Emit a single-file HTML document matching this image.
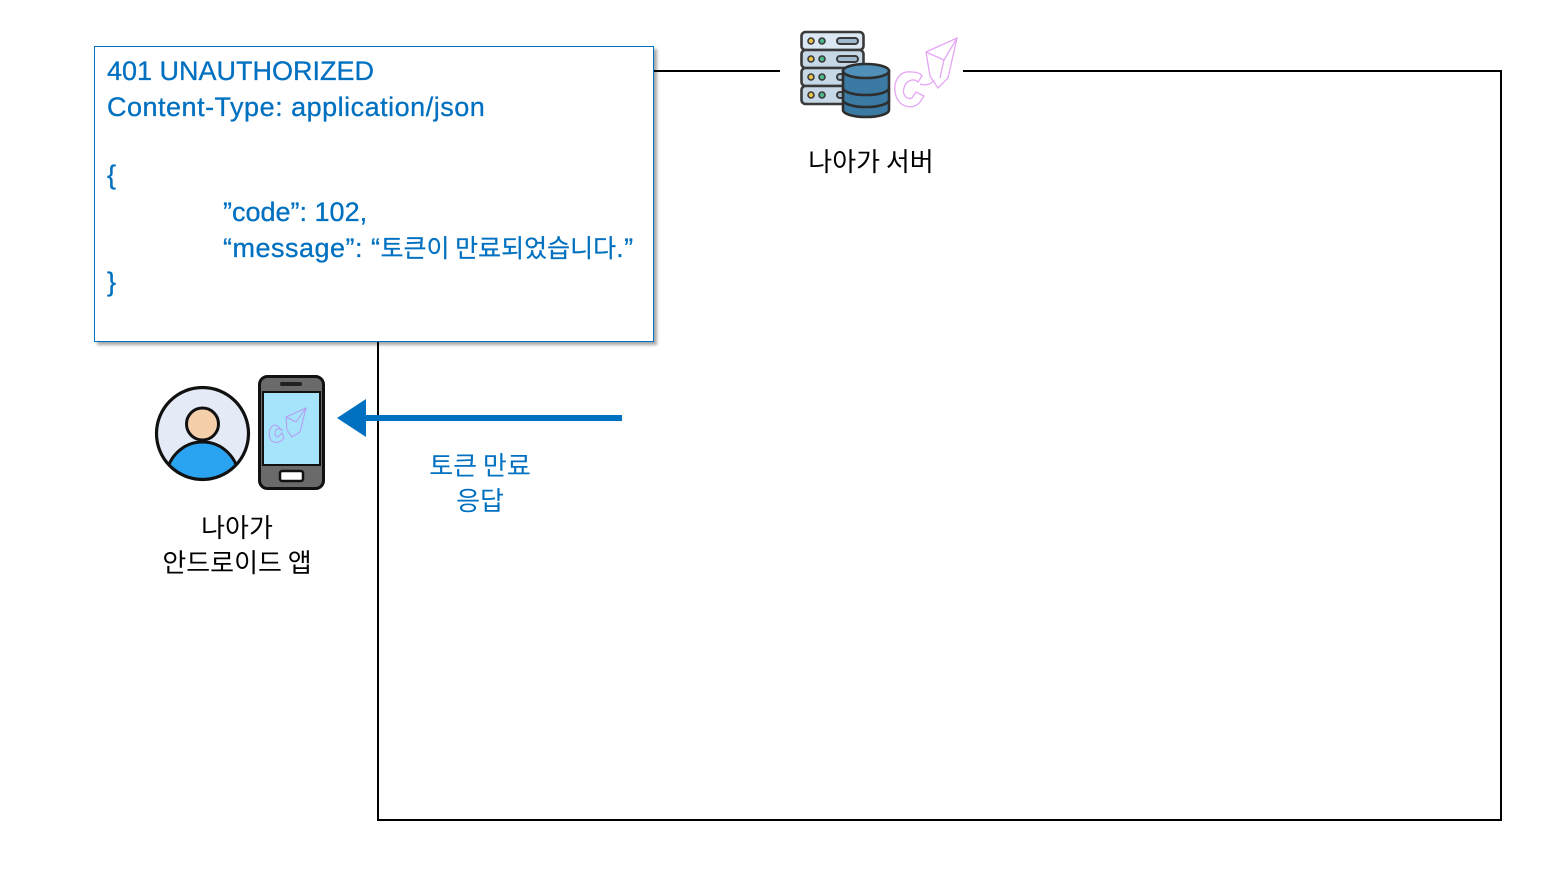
<!DOCTYPE html>
<html><head><meta charset="utf-8">
<style>
html,body{margin:0;padding:0;background:#fff;}
body{width:1560px;height:878px;position:relative;overflow:hidden;font-family:"Liberation Sans","Noto Sans CJK KR",sans-serif;}
.abs{position:absolute;}
.box{left:94px;top:46px;width:558px;height:294px;border:1px solid #0070c0;background:#fff;box-shadow:3px 3px 3px rgba(0,0,0,0.35);}
.c{position:absolute;color:#0070c0;font-size:27px;line-height:36px;white-space:pre;-webkit-text-stroke:0.3px #0070c0;}
.ko{font-family:"Noto Sans CJK KR","Liberation Sans",sans-serif;font-size:25px;letter-spacing:0;-webkit-text-stroke:0.2px #0070c0;}
.lbl{font-family:"Noto Sans CJK KR",sans-serif;font-size:26px;line-height:35px;text-align:center;white-space:pre;}
</style></head>
<body>
<svg class="abs" style="left:0;top:0" width="1560" height="878">
  <!-- frame lines -->
  <line x1="378" y1="71" x2="378" y2="821" stroke="#000" stroke-width="2"/>
  <line x1="377" y1="820" x2="1502" y2="820" stroke="#000" stroke-width="2"/>
  <line x1="1501" y1="70" x2="1501" y2="821" stroke="#000" stroke-width="2"/>
  <line x1="654" y1="71" x2="780" y2="71" stroke="#000" stroke-width="2"/>
  <line x1="963" y1="71" x2="1502" y2="71" stroke="#000" stroke-width="2"/>
  <!-- arrow -->
  <line x1="364" y1="418" x2="622" y2="418" stroke="#0070c0" stroke-width="6"/>
  <polygon points="337,418 366,399 366,437" fill="#0070c0"/>

  <!-- server icon -->
  <g stroke="#3a3a3a" stroke-width="2.6">
    <rect x="801.5" y="32" width="62" height="18" rx="4" fill="#dbe7f2"/>
    <rect x="801.5" y="50" width="62" height="18" rx="4" fill="#c6d7e6"/>
    <rect x="801.5" y="68" width="62" height="18" rx="4" fill="#c6d7e6"/>
    <rect x="801.5" y="86" width="62" height="18" rx="4" fill="#c6d7e6"/>
  </g>
  <g stroke="#3a3a3a" stroke-width="1.6">
    <circle cx="811" cy="41" r="3" fill="#e7c34a"/><circle cx="822" cy="41" r="3" fill="#4cb98a"/>
    <circle cx="811" cy="59" r="3" fill="#e7c34a"/><circle cx="822" cy="59" r="3" fill="#4cb98a"/>
    <circle cx="811" cy="77" r="3" fill="#e7c34a"/><circle cx="822" cy="77" r="3" fill="#4cb98a"/>
    <circle cx="811" cy="95" r="3" fill="#e7c34a"/><circle cx="822" cy="95" r="3" fill="#4cb98a"/>
  </g>
  <g stroke="#3a3a3a" stroke-width="2" fill="#9fb9cf">
    <rect x="837" y="38" width="21" height="6" rx="3"/>
    <rect x="837" y="56" width="21" height="6" rx="3"/>
    <rect x="837" y="74" width="21" height="6" rx="3"/>
    <rect x="837" y="92" width="21" height="6" rx="3"/>
  </g>
  <!-- database -->
  <g stroke="#2e2e2e" stroke-width="2.6">
    <path d="M843,71 L843,110 A23,7 0 0 0 889,110 L889,71 Z" fill="#3a7aa3"/>
    <path d="M843,88 A23,7 0 0 0 889,88" fill="none"/>
    <path d="M843,100 A23,7 0 0 0 889,100" fill="none"/>
    <ellipse cx="866" cy="71" rx="23" ry="7" fill="#4f8fb8"/>
  </g>
  <!-- pink logo (server) -->
  <g fill="none" stroke="#e5a6f4" stroke-width="1.3">
    <path d="M912,72 C898,70 892,84 896,96 C900,108 914,110 920,102 L924,96 L916,92 L912,98 C906,100 902,94 904,88 C906,80 914,78 918,82 L922,76 C920,73 916,72 912,72 Z"/>
    <path d="M926,52 L957,38 L948,78 L938,88 L930,76 L926,52 Z"/>
    <path d="M926,52 L944,60 L957,38"/>
    <path d="M944,60 L940,78"/>
    <path d="M920,84 C926,86 932,84 934,80"/>
  </g>

  <!-- person icon -->
  <defs><clipPath id="cc"><circle cx="202.5" cy="433.5" r="46"/></clipPath></defs>
  <circle cx="202.5" cy="433.5" r="46" fill="#e4ebf6"/>
  <g clip-path="url(#cc)">
    <ellipse cx="202.5" cy="478" rx="36" ry="36" fill="#2aa3f0" stroke="#111" stroke-width="3"/>
  </g>
  <circle cx="202.5" cy="433.5" r="46" fill="none" stroke="#111" stroke-width="3.2"/>
  <circle cx="202.5" cy="424" r="16" fill="#f5cfaa" stroke="#111" stroke-width="3"/>

  <!-- phone -->
  <rect x="259.5" y="376.5" width="64" height="112" rx="8" fill="#6a6a6a" stroke="#111" stroke-width="3"/>
  <rect x="263" y="392" width="57" height="73" fill="#a5e4fb" stroke="#111" stroke-width="2"/>
  <rect x="280" y="382" width="22" height="4" rx="2" fill="#222"/>
  <rect x="280" y="471" width="23" height="10" rx="2" fill="#fff" stroke="#111" stroke-width="2.5"/>
  <g fill="none" stroke="#b79af0" stroke-width="1">
    <path d="M276,425 C270,425 268,432 270,438 C272,444 280,444 284,438 L282,433 L278,437 C275,437 274,433 276,430 C278,428 281,429 283,431 Z"/>
    <path d="M286,417 L306,408 L300,432 L292,437 L287,430 Z"/>
    <path d="M286,417 L296,422 L306,408"/>
  </g>
</svg>

<div class="abs box"></div>
<div class="c" style="left:107px;top:53px;">401 UNAUTHORIZED</div>
<div class="c" style="left:107px;top:89px;letter-spacing:0.5px;">Content-Type: application/json</div>
<div class="c" style="left:107px;top:157px;">{</div>
<div class="c" style="left:223px;top:194px;">”code”: 102,</div>
<div class="c" style="left:223px;top:229px;letter-spacing:0.5px;">“message”: “<span class="ko">토큰이 만료되었습니다</span>.”</div>
<div class="c" style="left:107px;top:264px;">}</div>

<div class="abs lbl" style="left:771px;top:143px;width:200px;color:#000;">나아가 서버</div>
<div class="abs lbl" style="left:137px;top:509px;width:200px;color:#000;">나아가
안드로이드 앱</div>
<div class="abs lbl" style="left:380px;top:447px;width:200px;color:#0070c0;">토큰 만료
응답</div>
</body></html>
